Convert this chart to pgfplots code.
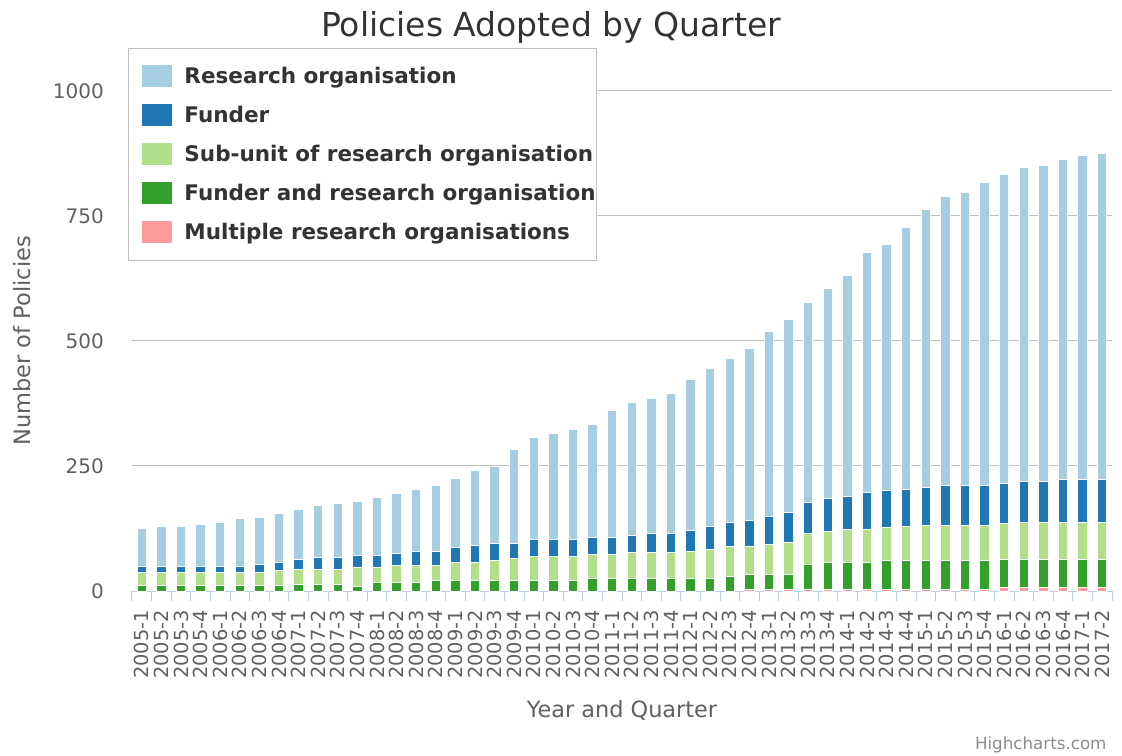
\documentclass[border=0pt]{standalone}
\usepackage{fontspec}
\setmainfont{DejaVu Sans}
\usepackage{pgfplots}
\usepackage{pgfplotstable}
\pgfplotsset{compat=1.18}

\definecolor{cRO}{HTML}{A6CEE3}
\definecolor{cFunder}{HTML}{1F78B4}
\definecolor{cSub}{HTML}{B2DF8A}
\definecolor{cFRO}{HTML}{33A02C}
\definecolor{cMulti}{HTML}{FB9A99}
\definecolor{txt}{HTML}{333333}
\definecolor{lbl}{HTML}{606060}
\definecolor{axl}{HTML}{C0D0E0}

% quarter, multiple, funder+RO, sub-unit, funder, research organisation
\pgfplotstableread{
q      multi fro sub fun ro
2005-1 0 11 26 12 76
2005-2 0 11 26 12 80
2005-3 0 11 26 12 80
2005-4 0 11 26 12 84
2006-1 0 11 26 12 88
2006-2 0 11 26 12 96
2006-3 0 11 26 16 95
2006-4 0 11 31 15 99
2007-1 0 13 30 20 100
2007-2 0 13 30 24 104
2007-3 0 13 30 24 108
2007-4 0 10 37 25 108
2008-1 0 17 30 25 115
2008-2 0 17 35 23 120
2008-3 0 17 35 27 123
2008-4 0 21 31 27 131
2009-1 0 21 36 30 138
2009-2 0 22 35 34 150
2009-3 0 22 39 34 153
2009-4 0 22 43 30 188
2010-1 0 22 47 34 204
2010-2 0 22 47 34 211
2010-3 0 22 47 34 219
2010-4 0 25 48 34 226
2011-1 0 25 48 34 254
2011-2 0 25 52 34 265
2011-3 0 25 52 38 269
2011-4 0 25 52 38 280
2012-1 0 25 55 42 301
2012-2 0 25 59 46 315
2012-3 0 30 59 49 327
2012-4 4 29 56 53 342
2013-1 4 29 60 56 370
2013-2 4 29 64 60 385
2013-3 4 49 62 62 400
2013-4 4 53 63 65 419
2014-1 4 53 66 66 442
2014-2 4 53 66 74 480
2014-3 4 57 66 74 492
2014-4 4 57 68 74 524
2015-1 4 57 70 76 555
2015-2 4 57 70 80 578
2015-3 4 57 70 80 586
2015-4 4 57 70 80 605
2016-1 8 56 71 80 617
2016-2 8 56 74 81 628
2016-3 8 56 74 81 632
2016-4 8 56 74 84 640
2017-1 8 56 74 84 648
2017-2 8 56 74 84 652
}\data

\begin{document}
\begin{tikzpicture}
\begin{axis}[
    name=ax,
    scale only axis,
    width=980bp, height=500bp,
    ybar stacked,
    bar width=9.5bp,
    enlargelimits=false,
    xmin=-0.5, xmax=49.5,
    ymin=0, ymax=1000,
    ytick={0,250,500,750,1000},
    xtick=data,
    xticklabels from table={\data}{q},
    minor xtick={-0.5,0.5,...,49.5},
    axis x line*=bottom,
    axis y line*=left,
    x axis line style={draw=axl, line width=1bp},
    y axis line style={draw=none},
    tick align=outside,
    major tick length=0pt,
    minor tick length=10bp,
    minor x tick style={draw=axl, line width=1bp},
    ytick style={draw=none},
    ymajorgrids,
    grid style={draw=black!25, line width=1bp},
    /pgf/number format/assume math mode=true,
    /pgf/number format/1000 sep={},
    yticklabel style={font=\fontsize{20bp}{24bp}\selectfont, text=lbl, inner sep=0pt, anchor=east},
    yticklabel shift=28bp,
    xticklabel style={font=\fontsize{19.4bp}{23bp}\selectfont, text=lbl, inner sep=0pt, rotate=90, anchor=east},
    xticklabel shift=19bp,
    reverse legend,
    legend cell align=left,
    legend image code/.code={\fill[#1,draw=none] (14bp,-11bp) rectangle (44bp,11bp); \path[draw=none,fill=none] (0bp,0bp) -- (55bp,0bp);},
    legend style={at={(0,1)}, anchor=north west, xshift=-4bp, yshift=43bp,
        draw=black!25, line width=1bp, fill=white,
        font=\bfseries\fontsize{21.5bp}{25bp}\selectfont, text=txt,
        inner xsep=0bp, inner ysep=17bp, row sep=17bp,
        nodes={inner xsep=1bp}},
    every axis plot/.append style={draw=white, line width=1bp},
]
\addplot[fill=cMulti] table[x expr=\coordindex, y=multi] {\data};
\addlegendentry{Multiple research organisations}
\addplot[fill=cFRO] table[x expr=\coordindex, y=fro] {\data};
\addlegendentry{Funder and research organisation}
\addplot[fill=cSub] table[x expr=\coordindex, y=sub] {\data};
\addlegendentry{Sub-unit of research organisation}
\addplot[fill=cFunder] table[x expr=\coordindex, y=fun] {\data};
\addlegendentry{Funder}
\addplot[fill=cRO] table[x expr=\coordindex, y=ro] {\data};
\addlegendentry{Research organisation}
\end{axis}
\node[text=txt, font=\fontsize{33bp}{38bp}\selectfont] at (419bp,564bp) {Policies Adopted by Quarter};
\node[text=lbl, font=\fontsize{22.4bp}{26bp}\selectfont] at (490bp,-119bp) {Year and Quarter};
\node[text=lbl, font=\fontsize{22.5bp}{26bp}\selectfont, rotate=90] at (-110bp,250bp) {Number of Policies};
\node[text=black!45, font=\fontsize{16.7bp}{20bp}\selectfont, anchor=east] at (978bp,-154bp) {Highcharts.com};
\pgfresetboundingbox
\path[use as bounding box] (-132bp,-165bp) rectangle (990bp,591bp);
\end{tikzpicture}
\end{document}
